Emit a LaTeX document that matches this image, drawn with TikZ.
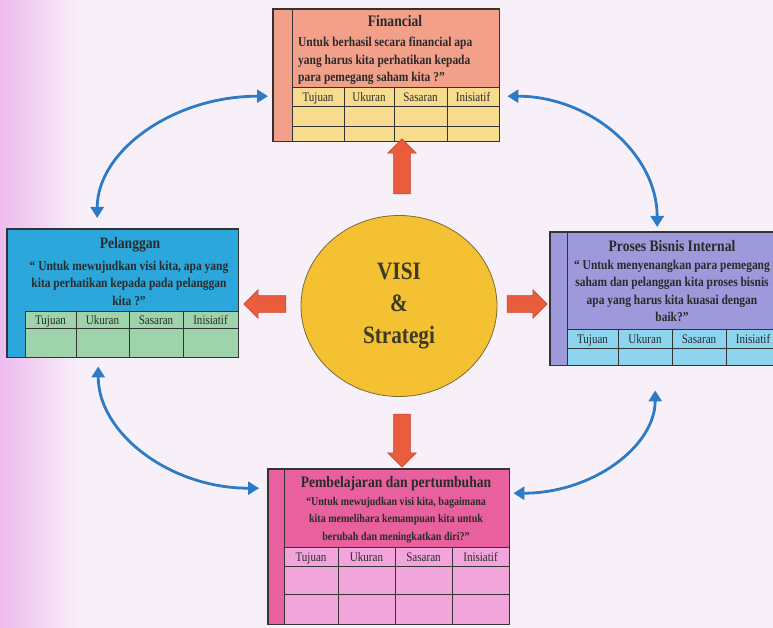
\documentclass[tikz,border=0pt]{standalone}
\usepackage{fontspec}
\setmainfont{Liberation Serif}
\newfontfamily\condfont{Liberation Serif}[FakeStretch=0.85]
\usetikzlibrary{shapes.geometric,shapes.arrows,arrows.meta}
\definecolor{bgc}{HTML}{F8F0F8}
\definecolor{leftc}{HTML}{EEBBEE}
\definecolor{linec}{HTML}{333333}
\definecolor{txtc}{HTML}{2A2A2A}
\definecolor{fintop}{HTML}{F2A08A}
\definecolor{fintab}{HTML}{F7DC8F}
\definecolor{peltop}{HTML}{2BA7DC}
\definecolor{peltab}{HTML}{9ED3AC}
\definecolor{protop}{HTML}{9E99DB}
\definecolor{protab}{HTML}{8DD5EE}
\definecolor{pemtop}{HTML}{E9609E}
\definecolor{pemtab}{HTML}{F2A5DA}
\definecolor{orc}{HTML}{E95C3C}
\definecolor{ordc}{HTML}{C8452A}
\definecolor{bluec}{HTML}{2D7BC6}
\definecolor{visc}{HTML}{F4C132}
\definecolor{visd}{HTML}{7A6A3A}
\definecolor{vist}{HTML}{3B3A22}
\tikzset{
 boxline/.style={draw=linec, line width=1.1pt},
 gridl/.style={draw=linec, line width=1pt},
 ttl/.style={font=\condfont\fontsize{16}{18}\selectfont\bfseries, text=txtc, inner sep=0pt},
 bodyt/.style={font=\condfont\fontsize{13.5}{17.5}\selectfont\bfseries, text=txtc, align=center, inner sep=0pt},
 hdr/.style={font=\condfont\fontsize{13}{15}\selectfont, text=txtc, inner sep=0pt, anchor=base},
 blockarr/.style={single arrow, fill=orc, draw=ordc, line width=0.6pt, inner xsep=0pt, inner ysep=8pt, minimum width=28pt, single arrow head extend=6pt},
 bluearr/.style={draw=bluec, line width=2.8pt, {Triangle[length=11pt,width=13pt]}-{Triangle[length=11pt,width=13pt]}},
}
\begin{document}
\begin{tikzpicture}[x=1pt,y=-1pt]
\useasboundingbox (0,0) rectangle (773,628);
\begin{scope}
\clip (0,0) rectangle (773,628);
\fill[bgc] (0,0) rectangle (773,628);
\shade[left color=leftc, right color=bgc] (0,0) rectangle (80,628);

% ---------- Financial ----------
\node[fill=fintop, minimum width=226, minimum height=132, inner sep=0pt, anchor=north west] (fin) at (273,9) {};
\fill[fintab] (292,88) rectangle (499,141);
\draw[gridl] (292,9) -- (292,141);
\draw[gridl] (292,88) -- (499,88) (292,107) -- (499,107) (292,127) -- (499,127);
\draw[gridl] (344,88) -- (344,141) (394,88) -- (394,141) (447,88) -- (447,141);
\draw[boxline] (fin.north west) rectangle (fin.south east);
\node[ttl] (finT) at (395,21) {Financial};
\node[bodyt, align=left, anchor=west] (finB) at (298,61) {Untuk berhasil secara financial apa\\yang harus kita perhatikan kepada\\para pemegang saham kita ?”};
\node[hdr] (f1) at (318,102) {Tujuan};
\node[hdr] (f2) at (369,102) {Ukuran};
\node[hdr] (f3) at (420.5,102) {Sasaran};
\node[hdr] (f4) at (473,102) {Inisiatif};

% ---------- Pelanggan ----------
\node[fill=peltop, minimum width=231, minimum height=128, inner sep=0pt, anchor=north west] (pel) at (7,229) {};
\fill[peltab] (25,311) rectangle (238,357);
\draw[gridl] (25,311) -- (25,357);
\draw[gridl] (25,311) -- (238,311) (25,328) -- (238,328);
\draw[gridl] (76,311) -- (76,357) (129,311) -- (129,357) (183,311) -- (183,357);
\draw[boxline] (pel.north west) rectangle (pel.south east);
\node[ttl] (pelT) at (130,245) {Pelanggan};
\node[bodyt] (pelB) at (129,283) {“ Untuk mewujudkan visi kita, apa yang\\kita perhatikan kepada pada pelanggan\\kita ?”};
\node[hdr] (p1) at (50.5,324) {Tujuan};
\node[hdr] (p2) at (102.5,324) {Ukuran};
\node[hdr] (p3) at (156,324) {Sasaran};
\node[hdr] (p4) at (210.5,324) {Inisiatif};

% ---------- Proses Bisnis Internal ----------
\node[fill=protop, minimum width=230, minimum height=133, inner sep=0pt, anchor=north west] (pro) at (550,232) {};
\fill[protab] (567,329) rectangle (780,365);
\draw[gridl] (567,232) -- (567,365);
\draw[gridl] (567,329) -- (780,329) (567,348) -- (780,348);
\draw[gridl] (618,329) -- (618,365) (672,329) -- (672,365) (726,329) -- (726,365);
\draw[boxline] (pro.north west) rectangle (pro.south east);
\node[ttl] (proT) at (672,246) {Proses Bisnis Internal};
\node[bodyt] (proB) at (672,291) {“ Untuk menyenangkan para pemegang\\saham dan pelanggan kita proses bisnis\\apa yang harus kita kuasai dengan\\baik?”};
\node[hdr] (r1) at (592.5,343) {Tujuan};
\node[hdr] (r2) at (645,343) {Ukuran};
\node[hdr] (r3) at (699,343) {Sasaran};
\node[hdr] (r4) at (753,343) {Inisiatif};

% ---------- Pembelajaran ----------
\node[fill=pemtop, minimum width=241, minimum height=155, inner sep=0pt, anchor=north west] (pem) at (268,469) {};
\fill[pemtab] (284,547) rectangle (509,624);
\draw[gridl] (284,469) -- (284,624);
\draw[gridl] (284,547) -- (509,547) (284,566) -- (509,566) (284,594) -- (509,594);
\draw[gridl] (338,547) -- (338,624) (395,547) -- (395,624) (452,547) -- (452,624);
\draw[boxline] (pem.north west) rectangle (pem.south east);
\node[ttl] (pemT) at (396,484) {Pembelajaran dan pertumbuhan};
\node[bodyt, font=\condfont\fontsize{11.8}{17.5}\selectfont\bfseries] (pemB) at (396,520) {“Untuk mewujudkan visi kita, bagaimana\\kita memelihara kemampuan kita untuk\\berubah dan meningkatkan diri?”};
\node[hdr] (m1) at (311,561) {Tujuan};
\node[hdr] (m2) at (366.5,561) {Ukuran};
\node[hdr] (m3) at (423.5,561) {Sasaran};
\node[hdr] (m4) at (480.5,561) {Inisiatif};

% ---------- Visi ----------
\node[ellipse, fill=visc, draw=visd, line width=0.8pt, minimum width=196, minimum height=181, inner sep=0pt,
      font=\condfont\fontsize{25}{32}\selectfont\bfseries, text=vist, align=center] (vis) at (399,306) {VISI\\\&\\Strategi};

% ---------- block arrows ----------
\node[blockarr, minimum height=55, rotate=90] (ua) at (402,170.5) {};
\node[blockarr, minimum height=53, rotate=270] (da) at (402,436.5) {};
\node[blockarr, minimum height=42, rotate=180] (la) at (269,304) {};
\node[blockarr, minimum height=40] (ra) at (523,304) {};

% ---------- blue curved arrows ----------
\draw[bluearr] ([xshift=-5pt,yshift=-21pt]fin.west) .. controls +(-95,0) and +(0,-67) .. ([xshift=-25.5pt,yshift=11pt]pel.north);
\draw[bluearr] ([xshift=8pt,yshift=-21pt]fin.east) .. controls +(83,0) and +(0,-73) .. ([xshift=-8pt,yshift=5pt]pro.north);
\draw[bluearr] ([xshift=-24.5pt,yshift=-9pt]pel.south) .. controls +(0,67) and +(-89,0) .. ([xshift=-9pt,yshift=58.5pt]pem.west);
\draw[bluearr] ([xshift=4pt,yshift=53.5pt]pem.east) .. controls +(79,0) and +(0,56) .. ([xshift=-10pt,yshift=-25pt]pro.south);
\end{scope}
\end{tikzpicture}
\end{document}
